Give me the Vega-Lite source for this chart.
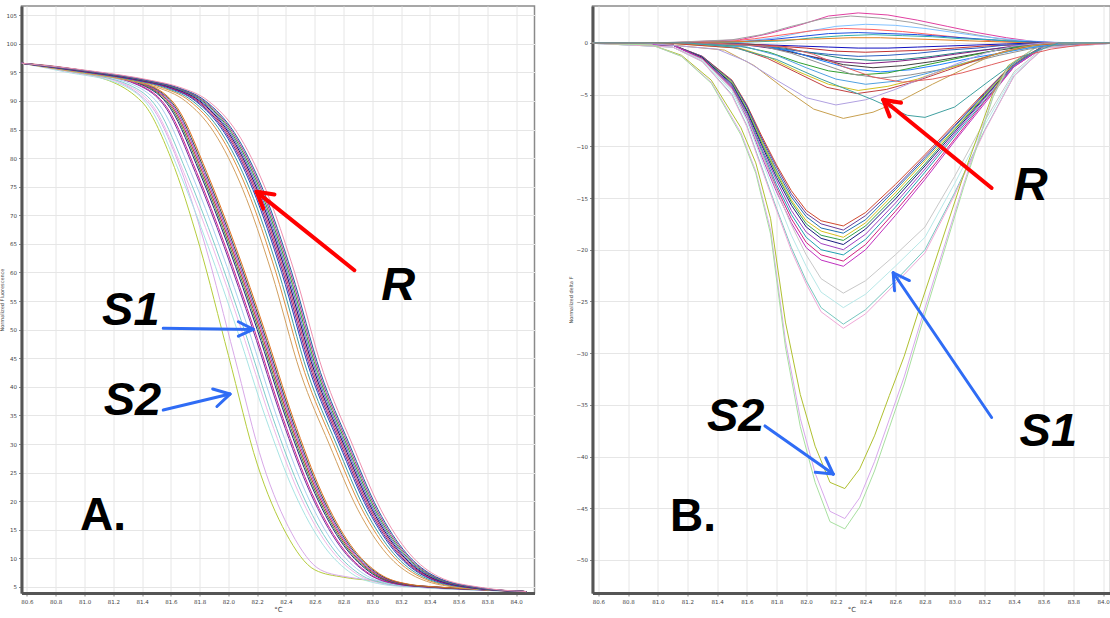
{
"$schema":"https://vega.github.io/schema/vega-lite/v6.json",
"autosize":{"type":"none"},
"padding":{"left":21.5,"top":6,"right":1088.5,"bottom":612},
"background":"#ffffff",
"config":{
"font":"DejaVu Sans",
"view":{"stroke":"#8a8a8a","strokeWidth":1.5},
"axis":{"tickCount":40,"labelFontSize":5.5,"labelColor":"#444444","labelOverlap":false,"labelFlush":false,"tickColor":"#888888","tickSize":3,"gridColor":"#e6e6e6","gridWidth":1,"domainColor":"#555555","domainWidth":3,"titleFontSize":5,"titleFontWeight":"normal","titleColor":"#444444"}
},
"datasets":{
"labels":[
{"p":"A","kind":"callout","t":"R","x":83.18,"y":55.2},
{"p":"A","kind":"callout","t":"S1","x":81.322,"y":50.8},
{"p":"A","kind":"callout","t":"S2","x":81.333,"y":35.07},
{"p":"A","kind":"panel","t":"A.","x":80.969,"y":14.97},
{"p":"B","kind":"callout","t":"R","x":83.513,"y":-15.15},
{"p":"B","kind":"callout","t":"S1","x":83.631,"y":-38.97},
{"p":"B","kind":"callout","t":"S2","x":81.525,"y":-37.52},
{"p":"B","kind":"panel","t":"B.","x":81.082,"y":-47.17}
],
"arrows":[
{"p":"A","g":"R","x":82.875,"y":60.4,"x2":82.196,"y2":74.1},
{"p":"A","g":"R","x":82.196,"y":74.1,"x2":82.242,"y2":71.17},
{"p":"A","g":"R","x":82.196,"y":74.1,"x2":82.32,"y2":73.64},
{"p":"A","g":"S","x":81.547,"y":50.23,"x2":82.173,"y2":50.05},
{"p":"A","g":"S","x":82.173,"y":50.05,"x2":82.069,"y2":51.38},
{"p":"A","g":"S","x":82.173,"y":50.05,"x2":82.069,"y2":48.88},
{"p":"A","g":"S","x":81.547,"y":35.94,"x2":82.011,"y2":38.74},
{"p":"A","g":"S","x":82.011,"y":38.74,"x2":81.891,"y2":39.63},
{"p":"A","g":"S","x":82.011,"y":38.74,"x2":81.92,"y2":36.57},
{"p":"B","g":"R","x":83.249,"y":-14.03,"x2":82.519,"y2":-5.5},
{"p":"B","g":"R","x":82.519,"y":-5.5,"x2":82.562,"y2":-7.12},
{"p":"B","g":"R","x":82.519,"y":-5.5,"x2":82.639,"y2":-5.78},
{"p":"B","g":"S","x":83.249,"y":-36.23,"x2":82.586,"y2":-22.23},
{"p":"B","g":"S","x":82.586,"y":-22.23,"x2":82.595,"y2":-23.97},
{"p":"B","g":"S","x":82.586,"y":-22.23,"x2":82.695,"y2":-22.98},
{"p":"B","g":"S","x":81.722,"y":-37.04,"x2":82.182,"y2":-41.7},
{"p":"B","g":"S","x":82.182,"y":-41.7,"x2":82.131,"y2":-40.13},
{"p":"B","g":"S","x":82.182,"y":-41.7,"x2":82.061,"y2":-41.53}
],
"curvesA":[
{"c":"a01","x":80.56,"y":96.6},{"c":"a01","x":81,"y":94.9},{"c":"a01","x":81.4,"y":89.8},{"c":"a01","x":81.6,"y":80},{"c":"a01","x":81.8,"y":64.6},{"c":"a01","x":82,"y":45.5},{"c":"a01","x":82.2,"y":26.5},{"c":"a01","x":82.4,"y":14.4},{"c":"a01","x":82.6,"y":8},{"c":"a01","x":82.8,"y":6.7},{"c":"a01","x":83,"y":6.1},{"c":"a01","x":83.2,"y":5.4},{"c":"a01","x":83.4,"y":5},{"c":"a01","x":83.7,"y":4.6},{"c":"a01","x":84.07,"y":4.2},
{"c":"a02","x":80.56,"y":96.6},{"c":"a02","x":81.04,"y":94.9},{"c":"a02","x":81.44,"y":89.8},{"c":"a02","x":81.64,"y":80},{"c":"a02","x":81.84,"y":64.6},{"c":"a02","x":82.04,"y":45.5},{"c":"a02","x":82.24,"y":26.5},{"c":"a02","x":82.44,"y":14.4},{"c":"a02","x":82.64,"y":8},{"c":"a02","x":82.84,"y":6.7},{"c":"a02","x":83.04,"y":6.1},{"c":"a02","x":83.24,"y":5.4},{"c":"a02","x":83.44,"y":5},{"c":"a02","x":83.74,"y":4.6},{"c":"a02","x":84.07,"y":4.2},
{"c":"a03","x":80.56,"y":96.6},{"c":"a03","x":80.86,"y":95.1},{"c":"a03","x":81.26,"y":92.8},{"c":"a03","x":81.46,"y":88.6},{"c":"a03","x":81.66,"y":77.5},{"c":"a03","x":81.86,"y":64.5},{"c":"a03","x":82.06,"y":50},{"c":"a03","x":82.26,"y":34.5},{"c":"a03","x":82.46,"y":21.4},{"c":"a03","x":82.66,"y":12.3},{"c":"a03","x":82.86,"y":7.3},{"c":"a03","x":83.06,"y":5.5},{"c":"a03","x":83.26,"y":5},{"c":"a03","x":83.56,"y":4.6},{"c":"a03","x":84.07,"y":4.2},
{"c":"a04","x":80.56,"y":96.6},{"c":"a04","x":80.89,"y":95.1},{"c":"a04","x":81.29,"y":92.8},{"c":"a04","x":81.49,"y":88.6},{"c":"a04","x":81.69,"y":77.5},{"c":"a04","x":81.89,"y":64.5},{"c":"a04","x":82.09,"y":50},{"c":"a04","x":82.29,"y":34.5},{"c":"a04","x":82.49,"y":21.4},{"c":"a04","x":82.69,"y":12.3},{"c":"a04","x":82.89,"y":7.3},{"c":"a04","x":83.09,"y":5.5},{"c":"a04","x":83.29,"y":5},{"c":"a04","x":83.59,"y":4.6},{"c":"a04","x":84.07,"y":4.2},
{"c":"a05","x":80.56,"y":96.6},{"c":"a05","x":80.91,"y":95.1},{"c":"a05","x":81.31,"y":92.8},{"c":"a05","x":81.51,"y":88.6},{"c":"a05","x":81.71,"y":77.5},{"c":"a05","x":81.91,"y":64.5},{"c":"a05","x":82.11,"y":50},{"c":"a05","x":82.31,"y":34.5},{"c":"a05","x":82.51,"y":21.4},{"c":"a05","x":82.71,"y":12.3},{"c":"a05","x":82.91,"y":7.3},{"c":"a05","x":83.11,"y":5.5},{"c":"a05","x":83.31,"y":5},{"c":"a05","x":83.61,"y":4.6},{"c":"a05","x":84.07,"y":4.2},
{"c":"a06","x":80.56,"y":96.6},{"c":"a06","x":80.94,"y":95.1},{"c":"a06","x":81.34,"y":92.8},{"c":"a06","x":81.54,"y":88.6},{"c":"a06","x":81.74,"y":77.5},{"c":"a06","x":81.94,"y":64.5},{"c":"a06","x":82.14,"y":50},{"c":"a06","x":82.34,"y":34.5},{"c":"a06","x":82.54,"y":21.4},{"c":"a06","x":82.74,"y":12.3},{"c":"a06","x":82.94,"y":7.3},{"c":"a06","x":83.14,"y":5.5},{"c":"a06","x":83.34,"y":5},{"c":"a06","x":83.64,"y":4.6},{"c":"a06","x":84.07,"y":4.2},
{"c":"a07","x":80.56,"y":96.6},{"c":"a07","x":80.97,"y":95.1},{"c":"a07","x":81.37,"y":92.8},{"c":"a07","x":81.57,"y":88.6},{"c":"a07","x":81.77,"y":77.5},{"c":"a07","x":81.97,"y":64.5},{"c":"a07","x":82.17,"y":50},{"c":"a07","x":82.37,"y":34.5},{"c":"a07","x":82.57,"y":21.4},{"c":"a07","x":82.77,"y":12.3},{"c":"a07","x":82.97,"y":7.3},{"c":"a07","x":83.17,"y":5.5},{"c":"a07","x":83.37,"y":5},{"c":"a07","x":83.67,"y":4.6},{"c":"a07","x":84.07,"y":4.2},
{"c":"a08","x":80.56,"y":96.6},{"c":"a08","x":80.98,"y":95.1},{"c":"a08","x":81.38,"y":92.8},{"c":"a08","x":81.58,"y":88.6},{"c":"a08","x":81.78,"y":77.5},{"c":"a08","x":81.98,"y":64.5},{"c":"a08","x":82.18,"y":50},{"c":"a08","x":82.38,"y":34.5},{"c":"a08","x":82.58,"y":21.4},{"c":"a08","x":82.78,"y":12.3},{"c":"a08","x":82.98,"y":7.3},{"c":"a08","x":83.18,"y":5.5},{"c":"a08","x":83.38,"y":5},{"c":"a08","x":83.68,"y":4.6},{"c":"a08","x":84.07,"y":4.2},
{"c":"a09","x":80.56,"y":96.6},{"c":"a09","x":81,"y":95.1},{"c":"a09","x":81.4,"y":92.8},{"c":"a09","x":81.6,"y":88.6},{"c":"a09","x":81.8,"y":77.5},{"c":"a09","x":82,"y":64.5},{"c":"a09","x":82.2,"y":50},{"c":"a09","x":82.4,"y":34.5},{"c":"a09","x":82.6,"y":21.4},{"c":"a09","x":82.8,"y":12.3},{"c":"a09","x":83,"y":7.3},{"c":"a09","x":83.2,"y":5.5},{"c":"a09","x":83.4,"y":5},{"c":"a09","x":83.7,"y":4.6},{"c":"a09","x":84.07,"y":4.2},
{"c":"a10","x":80.56,"y":96.6},{"c":"a10","x":81.01,"y":95.1},{"c":"a10","x":81.41,"y":92.8},{"c":"a10","x":81.61,"y":88.6},{"c":"a10","x":81.81,"y":77.5},{"c":"a10","x":82.01,"y":64.5},{"c":"a10","x":82.21,"y":50},{"c":"a10","x":82.41,"y":34.5},{"c":"a10","x":82.61,"y":21.4},{"c":"a10","x":82.81,"y":12.3},{"c":"a10","x":83.01,"y":7.3},{"c":"a10","x":83.21,"y":5.5},{"c":"a10","x":83.41,"y":5},{"c":"a10","x":83.71,"y":4.6},{"c":"a10","x":84.07,"y":4.2},
{"c":"a11","x":80.56,"y":96.6},{"c":"a11","x":81.02,"y":95.1},{"c":"a11","x":81.42,"y":92.8},{"c":"a11","x":81.62,"y":88.6},{"c":"a11","x":81.82,"y":77.5},{"c":"a11","x":82.02,"y":64.5},{"c":"a11","x":82.22,"y":50},{"c":"a11","x":82.42,"y":34.5},{"c":"a11","x":82.62,"y":21.4},{"c":"a11","x":82.82,"y":12.3},{"c":"a11","x":83.02,"y":7.3},{"c":"a11","x":83.22,"y":5.5},{"c":"a11","x":83.42,"y":5},{"c":"a11","x":83.72,"y":4.6},{"c":"a11","x":84.07,"y":4.2},
{"c":"a12","x":80.56,"y":96.6},{"c":"a12","x":81.03,"y":95.1},{"c":"a12","x":81.43,"y":92.8},{"c":"a12","x":81.63,"y":88.6},{"c":"a12","x":81.83,"y":77.5},{"c":"a12","x":82.03,"y":64.5},{"c":"a12","x":82.23,"y":50},{"c":"a12","x":82.43,"y":34.5},{"c":"a12","x":82.63,"y":21.4},{"c":"a12","x":82.83,"y":12.3},{"c":"a12","x":83.03,"y":7.3},{"c":"a12","x":83.23,"y":5.5},{"c":"a12","x":83.43,"y":5},{"c":"a12","x":83.73,"y":4.6},{"c":"a12","x":84.07,"y":4.2},
{"c":"a13","x":80.56,"y":96.6},{"c":"a13","x":81.04,"y":95.1},{"c":"a13","x":81.44,"y":92.8},{"c":"a13","x":81.64,"y":88.6},{"c":"a13","x":81.84,"y":77.5},{"c":"a13","x":82.04,"y":64.5},{"c":"a13","x":82.24,"y":50},{"c":"a13","x":82.44,"y":34.5},{"c":"a13","x":82.64,"y":21.4},{"c":"a13","x":82.84,"y":12.3},{"c":"a13","x":83.04,"y":7.3},{"c":"a13","x":83.24,"y":5.5},{"c":"a13","x":83.44,"y":5},{"c":"a13","x":83.74,"y":4.6},{"c":"a13","x":84.07,"y":4.2},
{"c":"a14","x":80.56,"y":96.6},{"c":"a14","x":81.05,"y":95.1},{"c":"a14","x":81.45,"y":92.8},{"c":"a14","x":81.65,"y":88.6},{"c":"a14","x":81.85,"y":77.5},{"c":"a14","x":82.05,"y":64.5},{"c":"a14","x":82.25,"y":50},{"c":"a14","x":82.45,"y":34.5},{"c":"a14","x":82.65,"y":21.4},{"c":"a14","x":82.85,"y":12.3},{"c":"a14","x":83.05,"y":7.3},{"c":"a14","x":83.25,"y":5.5},{"c":"a14","x":83.45,"y":5},{"c":"a14","x":83.75,"y":4.6},{"c":"a14","x":84.07,"y":4.2},
{"c":"a15","x":80.56,"y":96.6},{"c":"a15","x":80.9,"y":95.2},{"c":"a15","x":81.3,"y":93.6},{"c":"a15","x":81.5,"y":92.4},{"c":"a15","x":81.7,"y":90},{"c":"a15","x":81.9,"y":84.5},{"c":"a15","x":82.1,"y":74.5},{"c":"a15","x":82.3,"y":60},{"c":"a15","x":82.5,"y":42.5},{"c":"a15","x":82.7,"y":30},{"c":"a15","x":82.9,"y":18.5},{"c":"a15","x":83.1,"y":10.8},{"c":"a15","x":83.3,"y":6.8},{"c":"a15","x":83.6,"y":4.9},{"c":"a15","x":84.07,"y":4.2},
{"c":"a16","x":80.56,"y":96.6},{"c":"a16","x":80.93,"y":95.2},{"c":"a16","x":81.33,"y":93.6},{"c":"a16","x":81.53,"y":92.4},{"c":"a16","x":81.73,"y":90},{"c":"a16","x":81.93,"y":84.5},{"c":"a16","x":82.13,"y":74.5},{"c":"a16","x":82.33,"y":60},{"c":"a16","x":82.53,"y":42.5},{"c":"a16","x":82.73,"y":30},{"c":"a16","x":82.93,"y":18.5},{"c":"a16","x":83.13,"y":10.8},{"c":"a16","x":83.33,"y":6.8},{"c":"a16","x":83.63,"y":4.9},{"c":"a16","x":84.07,"y":4.2},
{"c":"a17","x":80.56,"y":96.6},{"c":"a17","x":80.95,"y":95.2},{"c":"a17","x":81.35,"y":93.6},{"c":"a17","x":81.55,"y":92.4},{"c":"a17","x":81.75,"y":90},{"c":"a17","x":81.95,"y":84.5},{"c":"a17","x":82.15,"y":74.5},{"c":"a17","x":82.35,"y":60},{"c":"a17","x":82.55,"y":42.5},{"c":"a17","x":82.75,"y":30},{"c":"a17","x":82.95,"y":18.5},{"c":"a17","x":83.15,"y":10.8},{"c":"a17","x":83.35,"y":6.8},{"c":"a17","x":83.65,"y":4.9},{"c":"a17","x":84.07,"y":4.2},
{"c":"a18","x":80.56,"y":96.6},{"c":"a18","x":80.97,"y":95.2},{"c":"a18","x":81.37,"y":93.6},{"c":"a18","x":81.57,"y":92.4},{"c":"a18","x":81.77,"y":90},{"c":"a18","x":81.97,"y":84.5},{"c":"a18","x":82.17,"y":74.5},{"c":"a18","x":82.37,"y":60},{"c":"a18","x":82.57,"y":42.5},{"c":"a18","x":82.77,"y":30},{"c":"a18","x":82.97,"y":18.5},{"c":"a18","x":83.17,"y":10.8},{"c":"a18","x":83.37,"y":6.8},{"c":"a18","x":83.67,"y":4.9},{"c":"a18","x":84.07,"y":4.2},
{"c":"a19","x":80.56,"y":96.6},{"c":"a19","x":80.98,"y":95.2},{"c":"a19","x":81.38,"y":93.6},{"c":"a19","x":81.58,"y":92.4},{"c":"a19","x":81.78,"y":90},{"c":"a19","x":81.98,"y":84.5},{"c":"a19","x":82.18,"y":74.5},{"c":"a19","x":82.38,"y":60},{"c":"a19","x":82.58,"y":42.5},{"c":"a19","x":82.78,"y":30},{"c":"a19","x":82.98,"y":18.5},{"c":"a19","x":83.18,"y":10.8},{"c":"a19","x":83.38,"y":6.8},{"c":"a19","x":83.68,"y":4.9},{"c":"a19","x":84.07,"y":4.2},
{"c":"a20","x":80.56,"y":96.6},{"c":"a20","x":80.99,"y":95.2},{"c":"a20","x":81.39,"y":93.6},{"c":"a20","x":81.59,"y":92.4},{"c":"a20","x":81.79,"y":90},{"c":"a20","x":81.99,"y":84.5},{"c":"a20","x":82.19,"y":74.5},{"c":"a20","x":82.39,"y":60},{"c":"a20","x":82.59,"y":42.5},{"c":"a20","x":82.79,"y":30},{"c":"a20","x":82.99,"y":18.5},{"c":"a20","x":83.19,"y":10.8},{"c":"a20","x":83.39,"y":6.8},{"c":"a20","x":83.69,"y":4.9},{"c":"a20","x":84.07,"y":4.2},
{"c":"a21","x":80.56,"y":96.6},{"c":"a21","x":81,"y":95.2},{"c":"a21","x":81.4,"y":93.6},{"c":"a21","x":81.6,"y":92.4},{"c":"a21","x":81.8,"y":90},{"c":"a21","x":82,"y":84.5},{"c":"a21","x":82.2,"y":74.5},{"c":"a21","x":82.4,"y":60},{"c":"a21","x":82.6,"y":42.5},{"c":"a21","x":82.8,"y":30},{"c":"a21","x":83,"y":18.5},{"c":"a21","x":83.2,"y":10.8},{"c":"a21","x":83.4,"y":6.8},{"c":"a21","x":83.7,"y":4.9},{"c":"a21","x":84.07,"y":4.2},
{"c":"a22","x":80.56,"y":96.6},{"c":"a22","x":81.01,"y":95.2},{"c":"a22","x":81.41,"y":93.6},{"c":"a22","x":81.61,"y":92.4},{"c":"a22","x":81.81,"y":90},{"c":"a22","x":82.01,"y":84.5},{"c":"a22","x":82.21,"y":74.5},{"c":"a22","x":82.41,"y":60},{"c":"a22","x":82.61,"y":42.5},{"c":"a22","x":82.81,"y":30},{"c":"a22","x":83.01,"y":18.5},{"c":"a22","x":83.21,"y":10.8},{"c":"a22","x":83.41,"y":6.8},{"c":"a22","x":83.71,"y":4.9},{"c":"a22","x":84.07,"y":4.2},
{"c":"a23","x":80.56,"y":96.6},{"c":"a23","x":81.02,"y":95.2},{"c":"a23","x":81.42,"y":93.6},{"c":"a23","x":81.62,"y":92.4},{"c":"a23","x":81.82,"y":90},{"c":"a23","x":82.02,"y":84.5},{"c":"a23","x":82.22,"y":74.5},{"c":"a23","x":82.42,"y":60},{"c":"a23","x":82.62,"y":42.5},{"c":"a23","x":82.82,"y":30},{"c":"a23","x":83.02,"y":18.5},{"c":"a23","x":83.22,"y":10.8},{"c":"a23","x":83.42,"y":6.8},{"c":"a23","x":83.72,"y":4.9},{"c":"a23","x":84.07,"y":4.2},
{"c":"a24","x":80.56,"y":96.6},{"c":"a24","x":81.03,"y":95.2},{"c":"a24","x":81.43,"y":93.6},{"c":"a24","x":81.63,"y":92.4},{"c":"a24","x":81.83,"y":90},{"c":"a24","x":82.03,"y":84.5},{"c":"a24","x":82.23,"y":74.5},{"c":"a24","x":82.43,"y":60},{"c":"a24","x":82.63,"y":42.5},{"c":"a24","x":82.83,"y":30},{"c":"a24","x":83.03,"y":18.5},{"c":"a24","x":83.23,"y":10.8},{"c":"a24","x":83.43,"y":6.8},{"c":"a24","x":83.73,"y":4.9},{"c":"a24","x":84.07,"y":4.2},
{"c":"a25","x":80.56,"y":96.6},{"c":"a25","x":81.04,"y":95.2},{"c":"a25","x":81.44,"y":93.6},{"c":"a25","x":81.64,"y":92.4},{"c":"a25","x":81.84,"y":90},{"c":"a25","x":82.04,"y":84.5},{"c":"a25","x":82.24,"y":74.5},{"c":"a25","x":82.44,"y":60},{"c":"a25","x":82.64,"y":42.5},{"c":"a25","x":82.84,"y":30},{"c":"a25","x":83.04,"y":18.5},{"c":"a25","x":83.24,"y":10.8},{"c":"a25","x":83.44,"y":6.8},{"c":"a25","x":83.74,"y":4.9},{"c":"a25","x":84.07,"y":4.2},
{"c":"a26","x":80.56,"y":96.6},{"c":"a26","x":81.06,"y":95.2},{"c":"a26","x":81.46,"y":93.6},{"c":"a26","x":81.66,"y":92.4},{"c":"a26","x":81.86,"y":90},{"c":"a26","x":82.06,"y":84.5},{"c":"a26","x":82.26,"y":74.5},{"c":"a26","x":82.46,"y":60},{"c":"a26","x":82.66,"y":42.5},{"c":"a26","x":82.86,"y":30},{"c":"a26","x":83.06,"y":18.5},{"c":"a26","x":83.26,"y":10.8},{"c":"a26","x":83.46,"y":6.8},{"c":"a26","x":83.76,"y":4.9},{"c":"a26","x":84.07,"y":4.2}
],
"curvesB":[
{"c":"b01","x":80.5,"y":0},{"c":"b01","x":81.1,"y":-0.2},{"c":"b01","x":81.3,"y":-1.3},{"c":"b01","x":81.5,"y":-3.6},{"c":"b01","x":81.6,"y":-6},{"c":"b01","x":81.7,"y":-9},{"c":"b01","x":81.8,"y":-11.8},{"c":"b01","x":81.9,"y":-14.3},{"c":"b01","x":82,"y":-16.2},{"c":"b01","x":82.1,"y":-17.2},{"c":"b01","x":82.25,"y":-17.7},{"c":"b01","x":82.4,"y":-16.4},{"c":"b01","x":82.6,"y":-13.7},{"c":"b01","x":82.8,"y":-10.8},{"c":"b01","x":83,"y":-7.8},{"c":"b01","x":83.2,"y":-4.8},{"c":"b01","x":83.4,"y":-1.9},{"c":"b01","x":83.6,"y":-0.3},{"c":"b01","x":84.1,"y":0},
{"c":"b02","x":80.5,"y":0},{"c":"b02","x":81.1,"y":-0.2},{"c":"b02","x":81.3,"y":-1.3},{"c":"b02","x":81.5,"y":-3.7},{"c":"b02","x":81.6,"y":-6.1},{"c":"b02","x":81.7,"y":-9.2},{"c":"b02","x":81.8,"y":-12},{"c":"b02","x":81.9,"y":-14.6},{"c":"b02","x":82,"y":-16.5},{"c":"b02","x":82.1,"y":-17.5},{"c":"b02","x":82.25,"y":-18.1},{"c":"b02","x":82.4,"y":-16.7},{"c":"b02","x":82.6,"y":-14},{"c":"b02","x":82.8,"y":-11},{"c":"b02","x":83,"y":-8},{"c":"b02","x":83.2,"y":-4.9},{"c":"b02","x":83.4,"y":-1.9},{"c":"b02","x":83.6,"y":-0.3},{"c":"b02","x":84.1,"y":0},
{"c":"b03","x":80.5,"y":0},{"c":"b03","x":81.1,"y":-0.2},{"c":"b03","x":81.3,"y":-1.4},{"c":"b03","x":81.5,"y":-3.7},{"c":"b03","x":81.6,"y":-6.2},{"c":"b03","x":81.7,"y":-9.4},{"c":"b03","x":81.8,"y":-12.3},{"c":"b03","x":81.9,"y":-14.9},{"c":"b03","x":82,"y":-16.8},{"c":"b03","x":82.1,"y":-17.9},{"c":"b03","x":82.25,"y":-18.4},{"c":"b03","x":82.4,"y":-17.1},{"c":"b03","x":82.6,"y":-14.2},{"c":"b03","x":82.8,"y":-11.2},{"c":"b03","x":83,"y":-8.1},{"c":"b03","x":83.2,"y":-5},{"c":"b03","x":83.4,"y":-2},{"c":"b03","x":83.6,"y":-0.3},{"c":"b03","x":84.1,"y":0},
{"c":"b04","x":80.5,"y":0},{"c":"b04","x":81.1,"y":-0.2},{"c":"b04","x":81.3,"y":-1.4},{"c":"b04","x":81.5,"y":-3.8},{"c":"b04","x":81.6,"y":-6.4},{"c":"b04","x":81.7,"y":-9.5},{"c":"b04","x":81.8,"y":-12.5},{"c":"b04","x":81.9,"y":-15.2},{"c":"b04","x":82,"y":-17.2},{"c":"b04","x":82.1,"y":-18.2},{"c":"b04","x":82.25,"y":-18.8},{"c":"b04","x":82.4,"y":-17.4},{"c":"b04","x":82.6,"y":-14.5},{"c":"b04","x":82.8,"y":-11.4},{"c":"b04","x":83,"y":-8.3},{"c":"b04","x":83.2,"y":-5.1},{"c":"b04","x":83.4,"y":-2},{"c":"b04","x":83.6,"y":-0.3},{"c":"b04","x":84.1,"y":0},
{"c":"b05","x":80.5,"y":0},{"c":"b05","x":81.1,"y":-0.2},{"c":"b05","x":81.3,"y":-1.4},{"c":"b05","x":81.5,"y":-3.9},{"c":"b05","x":81.6,"y":-6.5},{"c":"b05","x":81.7,"y":-9.7},{"c":"b05","x":81.8,"y":-12.7},{"c":"b05","x":81.9,"y":-15.4},{"c":"b05","x":82,"y":-17.5},{"c":"b05","x":82.1,"y":-18.6},{"c":"b05","x":82.25,"y":-19.1},{"c":"b05","x":82.4,"y":-17.7},{"c":"b05","x":82.6,"y":-14.8},{"c":"b05","x":82.8,"y":-11.7},{"c":"b05","x":83,"y":-8.4},{"c":"b05","x":83.2,"y":-5.2},{"c":"b05","x":83.4,"y":-2.1},{"c":"b05","x":83.6,"y":-0.3},{"c":"b05","x":84.1,"y":0},
{"c":"b06","x":80.5,"y":0},{"c":"b06","x":81.1,"y":-0.2},{"c":"b06","x":81.3,"y":-1.4},{"c":"b06","x":81.5,"y":-4},{"c":"b06","x":81.6,"y":-6.6},{"c":"b06","x":81.7,"y":-9.9},{"c":"b06","x":81.8,"y":-13},{"c":"b06","x":81.9,"y":-15.7},{"c":"b06","x":82,"y":-17.8},{"c":"b06","x":82.1,"y":-18.9},{"c":"b06","x":82.25,"y":-19.5},{"c":"b06","x":82.4,"y":-18},{"c":"b06","x":82.6,"y":-15.1},{"c":"b06","x":82.8,"y":-11.9},{"c":"b06","x":83,"y":-8.6},{"c":"b06","x":83.2,"y":-5.3},{"c":"b06","x":83.4,"y":-2.1},{"c":"b06","x":83.6,"y":-0.3},{"c":"b06","x":84.1,"y":0},
{"c":"b07","x":80.5,"y":0},{"c":"b07","x":81.1,"y":-0.2},{"c":"b07","x":81.3,"y":-1.5},{"c":"b07","x":81.5,"y":-4.1},{"c":"b07","x":81.6,"y":-6.8},{"c":"b07","x":81.7,"y":-10.2},{"c":"b07","x":81.8,"y":-13.3},{"c":"b07","x":81.9,"y":-16.2},{"c":"b07","x":82,"y":-18.3},{"c":"b07","x":82.1,"y":-19.4},{"c":"b07","x":82.25,"y":-20},{"c":"b07","x":82.4,"y":-18.5},{"c":"b07","x":82.6,"y":-15.5},{"c":"b07","x":82.8,"y":-12.2},{"c":"b07","x":83,"y":-8.8},{"c":"b07","x":83.2,"y":-5.4},{"c":"b07","x":83.4,"y":-2.1},{"c":"b07","x":83.6,"y":-0.3},{"c":"b07","x":84.1,"y":0},
{"c":"b08","x":80.5,"y":0},{"c":"b08","x":81.1,"y":-0.2},{"c":"b08","x":81.3,"y":-1.5},{"c":"b08","x":81.5,"y":-4.2},{"c":"b08","x":81.6,"y":-7},{"c":"b08","x":81.7,"y":-10.4},{"c":"b08","x":81.8,"y":-13.7},{"c":"b08","x":81.9,"y":-16.6},{"c":"b08","x":82,"y":-18.8},{"c":"b08","x":82.1,"y":-20},{"c":"b08","x":82.25,"y":-20.5},{"c":"b08","x":82.4,"y":-19},{"c":"b08","x":82.6,"y":-15.9},{"c":"b08","x":82.8,"y":-12.5},{"c":"b08","x":83,"y":-9},{"c":"b08","x":83.2,"y":-5.6},{"c":"b08","x":83.4,"y":-2.2},{"c":"b08","x":83.6,"y":-0.3},{"c":"b08","x":84.1,"y":0},
{"c":"b09","x":80.5,"y":0},{"c":"b09","x":81.1,"y":-0.2},{"c":"b09","x":81.3,"y":-1.5},{"c":"b09","x":81.5,"y":-4.3},{"c":"b09","x":81.6,"y":-7.1},{"c":"b09","x":81.7,"y":-10.7},{"c":"b09","x":81.8,"y":-14},{"c":"b09","x":81.9,"y":-17},{"c":"b09","x":82,"y":-19.3},{"c":"b09","x":82.1,"y":-20.5},{"c":"b09","x":82.25,"y":-21.1},{"c":"b09","x":82.4,"y":-19.5},{"c":"b09","x":82.6,"y":-16.3},{"c":"b09","x":82.8,"y":-12.9},{"c":"b09","x":83,"y":-9.3},{"c":"b09","x":83.2,"y":-5.7},{"c":"b09","x":83.4,"y":-2.3},{"c":"b09","x":83.6,"y":-0.4},{"c":"b09","x":84.1,"y":0},
{"c":"b10","x":80.5,"y":0},{"c":"b10","x":81.1,"y":-0.2},{"c":"b10","x":81.3,"y":-1.6},{"c":"b10","x":81.5,"y":-4.4},{"c":"b10","x":81.6,"y":-7.3},{"c":"b10","x":81.7,"y":-11},{"c":"b10","x":81.8,"y":-14.4},{"c":"b10","x":81.9,"y":-17.4},{"c":"b10","x":82,"y":-19.8},{"c":"b10","x":82.1,"y":-21},{"c":"b10","x":82.25,"y":-21.6},{"c":"b10","x":82.4,"y":-20},{"c":"b10","x":82.6,"y":-16.7},{"c":"b10","x":82.8,"y":-13.2},{"c":"b10","x":83,"y":-9.5},{"c":"b10","x":83.2,"y":-5.9},{"c":"b10","x":83.4,"y":-2.3},{"c":"b10","x":83.6,"y":-0.4},{"c":"b10","x":84.1,"y":0},
{"c":"b11","x":80.5,"y":0},{"c":"b11","x":81.1,"y":-0.4},{"c":"b11","x":81.3,"y":-1.6},{"c":"b11","x":81.5,"y":-4.5},{"c":"b11","x":81.6,"y":-7.1},{"c":"b11","x":81.7,"y":-10.7},{"c":"b11","x":81.8,"y":-14.2},{"c":"b11","x":81.9,"y":-17.6},{"c":"b11","x":82,"y":-20.5},{"c":"b11","x":82.1,"y":-22.8},{"c":"b11","x":82.25,"y":-24.2},{"c":"b11","x":82.4,"y":-23},{"c":"b11","x":82.6,"y":-20.5},{"c":"b11","x":82.8,"y":-17.8},{"c":"b11","x":83,"y":-12.9},{"c":"b11","x":83.2,"y":-7.6},{"c":"b11","x":83.4,"y":-2.8},{"c":"b11","x":83.6,"y":-0.4},{"c":"b11","x":84.1,"y":0},
{"c":"b12","x":80.5,"y":0},{"c":"b12","x":81.1,"y":-0.4},{"c":"b12","x":81.3,"y":-1.7},{"c":"b12","x":81.5,"y":-4.7},{"c":"b12","x":81.6,"y":-7.5},{"c":"b12","x":81.7,"y":-11.3},{"c":"b12","x":81.8,"y":-15},{"c":"b12","x":81.9,"y":-18.6},{"c":"b12","x":82,"y":-21.6},{"c":"b12","x":82.1,"y":-24.1},{"c":"b12","x":82.25,"y":-25.6},{"c":"b12","x":82.4,"y":-24.3},{"c":"b12","x":82.6,"y":-21.6},{"c":"b12","x":82.8,"y":-18.8},{"c":"b12","x":83,"y":-13.6},{"c":"b12","x":83.2,"y":-8},{"c":"b12","x":83.4,"y":-3},{"c":"b12","x":83.6,"y":-0.5},{"c":"b12","x":84.1,"y":0},
{"c":"b13","x":80.5,"y":0},{"c":"b13","x":81.1,"y":-0.4},{"c":"b13","x":81.3,"y":-1.8},{"c":"b13","x":81.5,"y":-5},{"c":"b13","x":81.6,"y":-8},{"c":"b13","x":81.7,"y":-12},{"c":"b13","x":81.8,"y":-16},{"c":"b13","x":81.9,"y":-19.8},{"c":"b13","x":82,"y":-23},{"c":"b13","x":82.1,"y":-25.6},{"c":"b13","x":82.25,"y":-27.2},{"c":"b13","x":82.4,"y":-25.8},{"c":"b13","x":82.6,"y":-23},{"c":"b13","x":82.8,"y":-20},{"c":"b13","x":83,"y":-14.5},{"c":"b13","x":83.2,"y":-8.5},{"c":"b13","x":83.4,"y":-3.2},{"c":"b13","x":83.6,"y":-0.5},{"c":"b13","x":84.1,"y":0},
{"c":"b14","x":80.5,"y":0},{"c":"b14","x":81.1,"y":-0.4},{"c":"b14","x":81.3,"y":-1.8},{"c":"b14","x":81.5,"y":-5.1},{"c":"b14","x":81.6,"y":-8.1},{"c":"b14","x":81.7,"y":-12.2},{"c":"b14","x":81.8,"y":-16.2},{"c":"b14","x":81.9,"y":-20.1},{"c":"b14","x":82,"y":-23.3},{"c":"b14","x":82.1,"y":-26},{"c":"b14","x":82.25,"y":-27.6},{"c":"b14","x":82.4,"y":-26.2},{"c":"b14","x":82.6,"y":-23.3},{"c":"b14","x":82.8,"y":-20.3},{"c":"b14","x":83,"y":-14.7},{"c":"b14","x":83.2,"y":-8.6},{"c":"b14","x":83.4,"y":-3.2},{"c":"b14","x":83.6,"y":-0.5},{"c":"b14","x":84.1,"y":0},
{"c":"b15","x":80.5,"y":0},{"c":"b15","x":80.96,"y":-0.2},{"c":"b15","x":81.16,"y":-1.2},{"c":"b15","x":81.36,"y":-3.6},{"c":"b15","x":81.56,"y":-8.2},{"c":"b15","x":81.66,"y":-11.6},{"c":"b15","x":81.76,"y":-17},{"c":"b15","x":81.86,"y":-27},{"c":"b15","x":81.96,"y":-34},{"c":"b15","x":82.06,"y":-39},{"c":"b15","x":82.16,"y":-42.5},{"c":"b15","x":82.26,"y":-43.1},{"c":"b15","x":82.36,"y":-41.2},{"c":"b15","x":82.46,"y":-38},{"c":"b15","x":82.56,"y":-34.1},{"c":"b15","x":82.66,"y":-30.3},{"c":"b15","x":82.76,"y":-25.8},{"c":"b15","x":82.86,"y":-21.5},{"c":"b15","x":83.06,"y":-12.8},{"c":"b15","x":83.26,"y":-4.8},{"c":"b15","x":83.36,"y":-2.2},{"c":"b15","x":83.56,"y":-0.3},{"c":"b15","x":83.76,"y":0},{"c":"b15","x":84.1,"y":0},
{"c":"b16","x":80.5,"y":0},{"c":"b16","x":80.96,"y":-0.2},{"c":"b16","x":81.16,"y":-1.3},{"c":"b16","x":81.36,"y":-3.8},{"c":"b16","x":81.56,"y":-8.7},{"c":"b16","x":81.66,"y":-12.4},{"c":"b16","x":81.76,"y":-18.1},{"c":"b16","x":81.86,"y":-28.8},{"c":"b16","x":81.96,"y":-36.3},{"c":"b16","x":82.06,"y":-41.6},{"c":"b16","x":82.16,"y":-45.3},{"c":"b16","x":82.26,"y":-46},{"c":"b16","x":82.36,"y":-44},{"c":"b16","x":82.46,"y":-40.5},{"c":"b16","x":82.56,"y":-36.4},{"c":"b16","x":82.66,"y":-32.3},{"c":"b16","x":82.76,"y":-27.5},{"c":"b16","x":82.86,"y":-22.9},{"c":"b16","x":83.06,"y":-13.7},{"c":"b16","x":83.26,"y":-5.1},{"c":"b16","x":83.36,"y":-2.3},{"c":"b16","x":83.56,"y":-0.3},{"c":"b16","x":83.76,"y":0},{"c":"b16","x":84.1,"y":0},
{"c":"b17","x":80.5,"y":0},{"c":"b17","x":80.96,"y":-0.2},{"c":"b17","x":81.16,"y":-1.3},{"c":"b17","x":81.36,"y":-3.9},{"c":"b17","x":81.56,"y":-8.9},{"c":"b17","x":81.66,"y":-12.6},{"c":"b17","x":81.76,"y":-18.5},{"c":"b17","x":81.86,"y":-29.4},{"c":"b17","x":81.96,"y":-37.1},{"c":"b17","x":82.06,"y":-42.5},{"c":"b17","x":82.16,"y":-46.3},{"c":"b17","x":82.26,"y":-47},{"c":"b17","x":82.36,"y":-44.9},{"c":"b17","x":82.46,"y":-41.4},{"c":"b17","x":82.56,"y":-37.2},{"c":"b17","x":82.66,"y":-33},{"c":"b17","x":82.76,"y":-28.1},{"c":"b17","x":82.86,"y":-23.4},{"c":"b17","x":83.06,"y":-14},{"c":"b17","x":83.26,"y":-5.2},{"c":"b17","x":83.36,"y":-2.4},{"c":"b17","x":83.56,"y":-0.3},{"c":"b17","x":83.76,"y":0},{"c":"b17","x":84.1,"y":0},
{"c":"b18","x":80.5,"y":0},{"c":"b18","x":81.05,"y":0},{"c":"b18","x":81.55,"y":0.3},{"c":"b18","x":81.75,"y":0.9},{"c":"b18","x":81.95,"y":1.7},{"c":"b18","x":82.15,"y":2.6},{"c":"b18","x":82.35,"y":2.9},{"c":"b18","x":82.55,"y":2.7},{"c":"b18","x":82.75,"y":2.2},{"c":"b18","x":82.95,"y":1.6},{"c":"b18","x":83.15,"y":1},{"c":"b18","x":83.35,"y":0.5},{"c":"b18","x":83.55,"y":0.1},{"c":"b18","x":83.75,"y":0},{"c":"b18","x":84.1,"y":0},
{"c":"b19","x":80.5,"y":0},{"c":"b19","x":81,"y":0},{"c":"b19","x":81.5,"y":0.3},{"c":"b19","x":81.7,"y":0.8},{"c":"b19","x":81.9,"y":1.6},{"c":"b19","x":82.1,"y":2.3},{"c":"b19","x":82.3,"y":2.6},{"c":"b19","x":82.5,"y":2.4},{"c":"b19","x":82.7,"y":2},{"c":"b19","x":82.9,"y":1.4},{"c":"b19","x":83.1,"y":0.9},{"c":"b19","x":83.3,"y":0.4},{"c":"b19","x":83.5,"y":0.1},{"c":"b19","x":83.7,"y":0},{"c":"b19","x":84.1,"y":0},
{"c":"b20","x":80.5,"y":0},{"c":"b20","x":81.1,"y":0},{"c":"b20","x":81.6,"y":0.2},{"c":"b20","x":81.8,"y":0.5},{"c":"b20","x":82,"y":1.1},{"c":"b20","x":82.2,"y":1.6},{"c":"b20","x":82.4,"y":1.8},{"c":"b20","x":82.6,"y":1.7},{"c":"b20","x":82.8,"y":1.4},{"c":"b20","x":83,"y":1},{"c":"b20","x":83.2,"y":0.6},{"c":"b20","x":83.4,"y":0.3},{"c":"b20","x":83.6,"y":0.1},{"c":"b20","x":83.8,"y":0},{"c":"b20","x":84.1,"y":0},
{"c":"b21","x":80.5,"y":0},{"c":"b21","x":80.95,"y":0},{"c":"b21","x":81.45,"y":0.1},{"c":"b21","x":81.65,"y":0.4},{"c":"b21","x":81.85,"y":0.8},{"c":"b21","x":82.05,"y":1.2},{"c":"b21","x":82.25,"y":1.4},{"c":"b21","x":82.45,"y":1.3},{"c":"b21","x":82.65,"y":1.1},{"c":"b21","x":82.85,"y":0.8},{"c":"b21","x":83.05,"y":0.5},{"c":"b21","x":83.25,"y":0.2},{"c":"b21","x":83.45,"y":0.1},{"c":"b21","x":83.65,"y":0},{"c":"b21","x":84.1,"y":0},
{"c":"b22","x":80.5,"y":0},{"c":"b22","x":81.05,"y":0},{"c":"b22","x":81.55,"y":0.1},{"c":"b22","x":81.75,"y":0.3},{"c":"b22","x":81.95,"y":0.6},{"c":"b22","x":82.15,"y":0.9},{"c":"b22","x":82.35,"y":1},{"c":"b22","x":82.55,"y":0.9},{"c":"b22","x":82.75,"y":0.8},{"c":"b22","x":82.95,"y":0.6},{"c":"b22","x":83.15,"y":0.4},{"c":"b22","x":83.35,"y":0.2},{"c":"b22","x":83.55,"y":0.1},{"c":"b22","x":83.75,"y":0},{"c":"b22","x":84.1,"y":0},
{"c":"b23","x":80.5,"y":0},{"c":"b23","x":81.15,"y":0},{"c":"b23","x":81.65,"y":0.1},{"c":"b23","x":81.85,"y":0.2},{"c":"b23","x":82.05,"y":0.5},{"c":"b23","x":82.25,"y":0.7},{"c":"b23","x":82.45,"y":0.8},{"c":"b23","x":82.65,"y":0.7},{"c":"b23","x":82.85,"y":0.6},{"c":"b23","x":83.05,"y":0.4},{"c":"b23","x":83.25,"y":0.3},{"c":"b23","x":83.45,"y":0.1},{"c":"b23","x":83.65,"y":0},{"c":"b23","x":83.85,"y":0},{"c":"b23","x":84.1,"y":0},
{"c":"b24","x":80.5,"y":0},{"c":"b24","x":81,"y":0},{"c":"b24","x":81.5,"y":0.1},{"c":"b24","x":81.7,"y":0.2},{"c":"b24","x":81.9,"y":0.3},{"c":"b24","x":82.1,"y":0.4},{"c":"b24","x":82.3,"y":0.5},{"c":"b24","x":82.5,"y":0.5},{"c":"b24","x":82.7,"y":0.4},{"c":"b24","x":82.9,"y":0.3},{"c":"b24","x":83.1,"y":0.2},{"c":"b24","x":83.3,"y":0.1},{"c":"b24","x":83.5,"y":0},{"c":"b24","x":83.7,"y":0},{"c":"b24","x":84.1,"y":0},
{"c":"b25","x":80.5,"y":0},{"c":"b25","x":81.05,"y":0},{"c":"b25","x":81.55,"y":-0.1},{"c":"b25","x":81.75,"y":-0.2},{"c":"b25","x":81.95,"y":-0.3},{"c":"b25","x":82.15,"y":-0.4},{"c":"b25","x":82.35,"y":-0.5},{"c":"b25","x":82.55,"y":-0.5},{"c":"b25","x":82.75,"y":-0.4},{"c":"b25","x":82.95,"y":-0.3},{"c":"b25","x":83.15,"y":-0.2},{"c":"b25","x":83.35,"y":-0.1},{"c":"b25","x":83.55,"y":0},{"c":"b25","x":83.75,"y":0},{"c":"b25","x":84.1,"y":0},
{"c":"b26","x":80.5,"y":0},{"c":"b26","x":81.1,"y":0},{"c":"b26","x":81.6,"y":-0.1},{"c":"b26","x":81.8,"y":-0.3},{"c":"b26","x":82,"y":-0.5},{"c":"b26","x":82.2,"y":-0.8},{"c":"b26","x":82.4,"y":-0.9},{"c":"b26","x":82.6,"y":-0.8},{"c":"b26","x":82.8,"y":-0.7},{"c":"b26","x":83,"y":-0.5},{"c":"b26","x":83.2,"y":-0.3},{"c":"b26","x":83.4,"y":-0.2},{"c":"b26","x":83.6,"y":0},{"c":"b26","x":83.8,"y":0},{"c":"b26","x":84.1,"y":0},
{"c":"b27","x":80.5,"y":0},{"c":"b27","x":81.05,"y":0},{"c":"b27","x":81.55,"y":-0.1},{"c":"b27","x":81.75,"y":-0.4},{"c":"b27","x":81.95,"y":-0.8},{"c":"b27","x":82.15,"y":-1.1},{"c":"b27","x":82.35,"y":-1.3},{"c":"b27","x":82.55,"y":-1.2},{"c":"b27","x":82.75,"y":-1},{"c":"b27","x":82.95,"y":-0.7},{"c":"b27","x":83.15,"y":-0.5},{"c":"b27","x":83.35,"y":-0.2},{"c":"b27","x":83.55,"y":-0.1},{"c":"b27","x":83.75,"y":0},{"c":"b27","x":84.1,"y":0},
{"c":"b28","x":80.5,"y":0},{"c":"b28","x":81.15,"y":0},{"c":"b28","x":81.65,"y":-0.2},{"c":"b28","x":81.85,"y":-0.5},{"c":"b28","x":82.05,"y":-1},{"c":"b28","x":82.25,"y":-1.5},{"c":"b28","x":82.45,"y":-1.7},{"c":"b28","x":82.65,"y":-1.6},{"c":"b28","x":82.85,"y":-1.3},{"c":"b28","x":83.05,"y":-0.9},{"c":"b28","x":83.25,"y":-0.6},{"c":"b28","x":83.45,"y":-0.3},{"c":"b28","x":83.65,"y":-0.1},{"c":"b28","x":83.85,"y":0},{"c":"b28","x":84.1,"y":0},
{"c":"b29","x":80.5,"y":0},{"c":"b29","x":81.1,"y":0},{"c":"b29","x":81.6,"y":-0.2},{"c":"b29","x":81.8,"y":-0.6},{"c":"b29","x":82,"y":-1.2},{"c":"b29","x":82.2,"y":-1.8},{"c":"b29","x":82.4,"y":-2},{"c":"b29","x":82.6,"y":-1.8},{"c":"b29","x":82.8,"y":-1.5},{"c":"b29","x":83,"y":-1.1},{"c":"b29","x":83.2,"y":-0.7},{"c":"b29","x":83.4,"y":-0.3},{"c":"b29","x":83.6,"y":-0.1},{"c":"b29","x":83.8,"y":0},{"c":"b29","x":84.1,"y":0},
{"c":"b30","x":80.5,"y":0},{"c":"b30","x":81.15,"y":0},{"c":"b30","x":81.65,"y":-0.2},{"c":"b30","x":81.85,"y":-0.7},{"c":"b30","x":82.05,"y":-1.4},{"c":"b30","x":82.25,"y":-2.1},{"c":"b30","x":82.45,"y":-2.4},{"c":"b30","x":82.65,"y":-2.2},{"c":"b30","x":82.85,"y":-1.8},{"c":"b30","x":83.05,"y":-1.3},{"c":"b30","x":83.25,"y":-0.8},{"c":"b30","x":83.45,"y":-0.4},{"c":"b30","x":83.65,"y":-0.1},{"c":"b30","x":83.85,"y":0},{"c":"b30","x":84.1,"y":0},
{"c":"b31","x":80.5,"y":0},{"c":"b31","x":81.2,"y":0},{"c":"b31","x":81.7,"y":-0.3},{"c":"b31","x":81.9,"y":-0.8},{"c":"b31","x":82.1,"y":-1.7},{"c":"b31","x":82.3,"y":-2.5},{"c":"b31","x":82.5,"y":-2.8},{"c":"b31","x":82.7,"y":-2.6},{"c":"b31","x":82.9,"y":-2.1},{"c":"b31","x":83.1,"y":-1.5},{"c":"b31","x":83.3,"y":-1},{"c":"b31","x":83.5,"y":-0.5},{"c":"b31","x":83.7,"y":-0.1},{"c":"b31","x":83.9,"y":0},{"c":"b31","x":84.1,"y":0},
{"c":"b32","x":80.5,"y":0},{"c":"b32","x":81.05,"y":0},{"c":"b32","x":81.55,"y":-0.3},{"c":"b32","x":81.75,"y":-0.9},{"c":"b32","x":81.95,"y":-1.9},{"c":"b32","x":82.15,"y":-2.7},{"c":"b32","x":82.35,"y":-3.1},{"c":"b32","x":82.55,"y":-2.9},{"c":"b32","x":82.75,"y":-2.3},{"c":"b32","x":82.95,"y":-1.7},{"c":"b32","x":83.15,"y":-1.1},{"c":"b32","x":83.35,"y":-0.5},{"c":"b32","x":83.55,"y":-0.2},{"c":"b32","x":83.75,"y":0},{"c":"b32","x":84.1,"y":0},
{"c":"b33","x":80.5,"y":0},{"c":"b33","x":81.2,"y":0},{"c":"b33","x":81.7,"y":-0.3},{"c":"b33","x":81.9,"y":-1},{"c":"b33","x":82.1,"y":-2},{"c":"b33","x":82.3,"y":-3},{"c":"b33","x":82.5,"y":-3.4},{"c":"b33","x":82.7,"y":-3.1},{"c":"b33","x":82.9,"y":-2.6},{"c":"b33","x":83.1,"y":-1.9},{"c":"b33","x":83.3,"y":-1.2},{"c":"b33","x":83.5,"y":-0.6},{"c":"b33","x":83.7,"y":-0.2},{"c":"b33","x":83.9,"y":0},{"c":"b33","x":84.1,"y":0},
{"c":"b34","x":80.5,"y":0},{"c":"b34","x":81.1,"y":0},{"c":"b34","x":81.6,"y":-0.4},{"c":"b34","x":81.8,"y":-1.2},{"c":"b34","x":82,"y":-2.4},{"c":"b34","x":82.2,"y":-3.5},{"c":"b34","x":82.4,"y":-4},{"c":"b34","x":82.6,"y":-3.7},{"c":"b34","x":82.8,"y":-3},{"c":"b34","x":83,"y":-2.2},{"c":"b34","x":83.2,"y":-1.4},{"c":"b34","x":83.4,"y":-0.7},{"c":"b34","x":83.6,"y":-0.2},{"c":"b34","x":83.8,"y":0},{"c":"b34","x":84.1,"y":0},
{"c":"b35","x":80.5,"y":0},{"c":"b35","x":81.05,"y":0},{"c":"b35","x":81.55,"y":-0.5},{"c":"b35","x":81.75,"y":-1.4},{"c":"b35","x":81.95,"y":-2.8},{"c":"b35","x":82.15,"y":-4},{"c":"b35","x":82.35,"y":-4.6},{"c":"b35","x":82.55,"y":-4.2},{"c":"b35","x":82.75,"y":-3.5},{"c":"b35","x":82.95,"y":-2.5},{"c":"b35","x":83.15,"y":-1.6},{"c":"b35","x":83.35,"y":-0.8},{"c":"b35","x":83.55,"y":-0.2},{"c":"b35","x":83.75,"y":0},{"c":"b35","x":84.1,"y":0},
{"c":"b36","x":80.5,"y":0},{"c":"b36","x":81.04,"y":0},{"c":"b36","x":81.54,"y":-0.5},{"c":"b36","x":81.74,"y":-1.5},{"c":"b36","x":81.94,"y":-2.9},{"c":"b36","x":82.14,"y":-4.3},{"c":"b36","x":82.34,"y":-4.9},{"c":"b36","x":82.54,"y":-4.5},{"c":"b36","x":82.74,"y":-3.7},{"c":"b36","x":82.94,"y":-2.7},{"c":"b36","x":83.14,"y":-1.7},{"c":"b36","x":83.34,"y":-0.8},{"c":"b36","x":83.54,"y":-0.2},{"c":"b36","x":83.74,"y":0},{"c":"b36","x":84.1,"y":0},
{"c":"b37","x":80.5,"y":0},{"c":"b37","x":80.95,"y":0},{"c":"b37","x":81.45,"y":-0.7},{"c":"b37","x":81.65,"y":-2.2},{"c":"b37","x":81.85,"y":-4.4},{"c":"b37","x":82.05,"y":-6.4},{"c":"b37","x":82.25,"y":-7.3},{"c":"b37","x":82.45,"y":-6.7},{"c":"b37","x":82.65,"y":-5.5},{"c":"b37","x":82.85,"y":-4},{"c":"b37","x":83.05,"y":-2.6},{"c":"b37","x":83.25,"y":-1.2},{"c":"b37","x":83.45,"y":-0.4},{"c":"b37","x":83.65,"y":0},{"c":"b37","x":84.1,"y":0},
{"c":"b38","x":80.5,"y":0},{"c":"b38","x":80.9,"y":0},{"c":"b38","x":81.4,"y":-0.6},{"c":"b38","x":81.6,"y":-1.8},{"c":"b38","x":81.8,"y":-3.6},{"c":"b38","x":82,"y":-5.3},{"c":"b38","x":82.2,"y":-6},{"c":"b38","x":82.4,"y":-5.5},{"c":"b38","x":82.6,"y":-4.5},{"c":"b38","x":82.8,"y":-3.3},{"c":"b38","x":83,"y":-2.1},{"c":"b38","x":83.2,"y":-1},{"c":"b38","x":83.4,"y":-0.3},{"c":"b38","x":83.6,"y":0},{"c":"b38","x":84.1,"y":0},
{"c":"b39","x":80.5,"y":0},{"c":"b39","x":81.35,"y":0},{"c":"b39","x":81.85,"y":-0.4},{"c":"b39","x":82.05,"y":-1.1},{"c":"b39","x":82.25,"y":-2.3},{"c":"b39","x":82.45,"y":-3.3},{"c":"b39","x":82.65,"y":-3.8},{"c":"b39","x":82.85,"y":-3.5},{"c":"b39","x":83.05,"y":-2.9},{"c":"b39","x":83.25,"y":-2.1},{"c":"b39","x":83.45,"y":-1.3},{"c":"b39","x":83.65,"y":-0.6},{"c":"b39","x":83.85,"y":-0.2},{"c":"b39","x":84.05,"y":0},{"c":"b39","x":84.1,"y":0},
{"c":"b40","x":80.5,"y":0},{"c":"b40","x":81.2,"y":0},{"c":"b40","x":81.5,"y":-0.4},{"c":"b40","x":81.8,"y":-1.6},{"c":"b40","x":82.1,"y":-3.5},{"c":"b40","x":82.45,"y":-5.5},{"c":"b40","x":82.68,"y":-7},{"c":"b40","x":82.8,"y":-7.2},{"c":"b40","x":83,"y":-6.2},{"c":"b40","x":83.24,"y":-3.6},{"c":"b40","x":83.46,"y":-1.3},{"c":"b40","x":83.7,"y":0},{"c":"b40","x":84.1,"y":0}
]
},
"spacing":58,
"bounds":"flush",
"resolve":{"scale":{"color":"independent"}},
"hconcat":[
{"width":513,"height":587,
"layer":[
{"data":{"name":"curvesA"},"mark":{"type":"line","interpolate":"monotone","strokeWidth":1,"clip":true},
"encoding":{
"x":{"field":"x","type":"quantitative","scale":{"domain":[80.562,84.127],"nice":false,"zero":false},"axis":{"values":[80.6,80.8,81.0,81.2,81.4,81.6,81.8,82.0,82.2,82.4,82.6,82.8,83.0,83.2,83.4,83.6,83.8,84.0],"tickCount":40,"format":".1f","title":"°C","titleFontSize":7,"titlePadding":1,"labelPadding":3}},
"y":{"field":"y","type":"quantitative","scale":{"domain":[3.95,106.6],"nice":false,"zero":false},"axis":{"values":[5,10,15,20,25,30,35,40,45,50,55,60,65,70,75,80,85,90,95,100,105],"tickCount":40,"title":"Normalized Fluorescence","titlePadding":2,"labelPadding":2}},
"color":{"field":"c","type":"nominal","legend":null,"scale":{"domain":["a01","a02","a03","a04","a05","a06","a07","a08","a09","a10","a11","a12","a13","a14","a15","a16","a17","a18","a19","a20","a21","a22","a23","a24","a25","a26"],"range":["#b5cc3c","#d8a8e8","#a8e4e4","#f0b8e8","#80cccc","#a8d0f0","#7030a0","#d02090","#202080","#3a8a3a","#c03030","#9932cc","#305050","#e07020","#d2a060","#e09040","#40a0a0","#2040c0","#802080","#c02060","#101060","#5050d0","#30a030","#b03090","#2060a0","#f090b0"]}}
}},
{"data":{"name":"arrows"},"transform":[{"filter":"datum.p=='A' && datum.g=='R'"}],"mark":{"type":"rule","color":"#ff0000","strokeWidth":4,"strokeCap":"round"},"encoding":{"x":{"field":"x","type":"quantitative"},"y":{"field":"y","type":"quantitative"},"x2":{"field":"x2"},"y2":{"field":"y2"}}},
{"data":{"name":"arrows"},"transform":[{"filter":"datum.p=='A' && datum.g=='S'"}],"mark":{"type":"rule","color":"#2f6cf5","strokeWidth":3,"strokeCap":"round"},"encoding":{"x":{"field":"x","type":"quantitative"},"y":{"field":"y","type":"quantitative"},"x2":{"field":"x2"},"y2":{"field":"y2"}}},
{"data":{"name":"labels"},"transform":[{"filter":"datum.p=='A' && datum.kind=='callout'"}],"mark":{"type":"text","font":"Liberation Sans","fontSize":47,"fontWeight":"bold","fontStyle":"italic","align":"center","baseline":"alphabetic","color":"#000000"},"encoding":{"x":{"field":"x","type":"quantitative"},"y":{"field":"y","type":"quantitative"},"text":{"field":"t"}}},
{"data":{"name":"labels"},"transform":[{"filter":"datum.p=='A' && datum.kind=='panel'"}],"mark":{"type":"text","font":"Liberation Sans","fontSize":46,"fontWeight":"bold","align":"left","baseline":"alphabetic","color":"#000000"},"encoding":{"x":{"field":"x","type":"quantitative"},"y":{"field":"y","type":"quantitative"},"text":{"field":"t"}}}
]},
{"width":518,"height":587,
"layer":[
{"data":{"name":"curvesB"},"mark":{"type":"line","interpolate":"linear","strokeWidth":1,"clip":true},
"encoding":{
"x":{"field":"x","type":"quantitative","scale":{"domain":[80.56,84.05],"nice":false,"zero":false},"axis":{"values":[80.6,80.8,81.0,81.2,81.4,81.6,81.8,82.0,82.2,82.4,82.6,82.8,83.0,83.2,83.4,83.6,83.8,84.0],"tickCount":40,"format":".1f","title":"°C","titleFontSize":7,"titlePadding":1,"labelPadding":3}},
"y":{"field":"y","type":"quantitative","scale":{"domain":[-53.2,3.57],"nice":false,"zero":false},"axis":{"values":[0,-5,-10,-15,-20,-25,-30,-35,-40,-45,-50],"tickCount":40,"title":"Normalized delta F","titlePadding":2,"labelPadding":2}},
"color":{"field":"c","type":"nominal","legend":null,"scale":{"domain":["b01","b02","b03","b04","b05","b06","b07","b08","b09","b10","b11","b12","b13","b14","b15","b16","b17","b18","b19","b20","b21","b22","b23","b24","b25","b26","b27","b28","b29","b30","b31","b32","b33","b34","b35","b36","b37","b38","b39","b40"],"range":["#d04a30","#6a3d9a","#2070b0","#d8c020","#30a050","#1a1a80","#a040c0","#20a0b0","#d02080","#c030c0","#c8c8c8","#b8e8e8","#78c8c0","#f0a8d8","#b0c030","#d8a8ec","#a8e0a0","#e040a0","#a0a0a0","#80c0ff","#ff6060","#2050e0","#30b0b0","#e08020","#1010c0","#c03030","#3060c0","#208080","#802080","#404040","#2080ff","#30a030","#909090","#50a0e0","#d0c020","#c04040","#c8a050","#b0a0e0","#e06060","#40a0a0"]}}
}},
{"data":{"name":"arrows"},"transform":[{"filter":"datum.p=='B' && datum.g=='R'"}],"mark":{"type":"rule","color":"#ff0000","strokeWidth":4,"strokeCap":"round"},"encoding":{"x":{"field":"x","type":"quantitative"},"y":{"field":"y","type":"quantitative"},"x2":{"field":"x2"},"y2":{"field":"y2"}}},
{"data":{"name":"arrows"},"transform":[{"filter":"datum.p=='B' && datum.g=='S'"}],"mark":{"type":"rule","color":"#2f6cf5","strokeWidth":3,"strokeCap":"round"},"encoding":{"x":{"field":"x","type":"quantitative"},"y":{"field":"y","type":"quantitative"},"x2":{"field":"x2"},"y2":{"field":"y2"}}},
{"data":{"name":"labels"},"transform":[{"filter":"datum.p=='B' && datum.kind=='callout'"}],"mark":{"type":"text","font":"Liberation Sans","fontSize":47,"fontWeight":"bold","fontStyle":"italic","align":"center","baseline":"alphabetic","color":"#000000"},"encoding":{"x":{"field":"x","type":"quantitative"},"y":{"field":"y","type":"quantitative"},"text":{"field":"t"}}},
{"data":{"name":"labels"},"transform":[{"filter":"datum.p=='B' && datum.kind=='panel'"}],"mark":{"type":"text","font":"Liberation Sans","fontSize":46,"fontWeight":"bold","align":"left","baseline":"alphabetic","color":"#000000"},"encoding":{"x":{"field":"x","type":"quantitative"},"y":{"field":"y","type":"quantitative"},"text":{"field":"t"}}}
]}
]
}
